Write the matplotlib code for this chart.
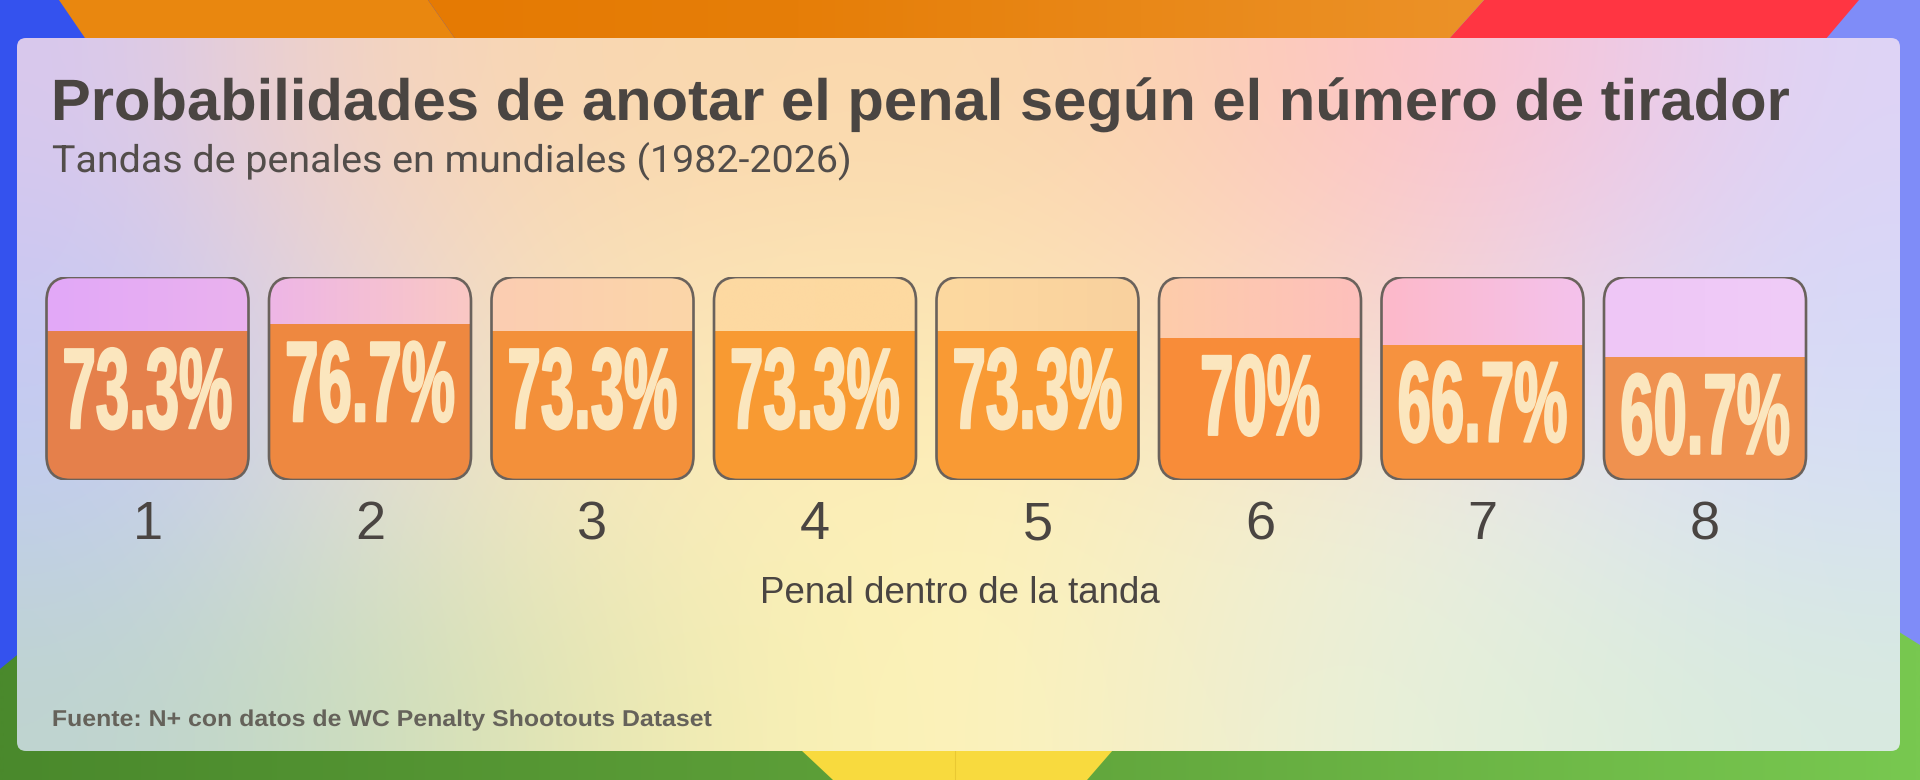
import numpy as np
import matplotlib
matplotlib.use("Agg")
import matplotlib.pyplot as plt
import matplotlib.patheffects as pe
from matplotlib.patches import Polygon, FancyBboxPatch
from matplotlib.transforms import Affine2D
from matplotlib.colors import to_rgb

# data
shooter = [1, 2, 3, 4, 5, 6, 7, 8]
pct_scored = [73.3, 76.7, 73.3, 73.3, 73.3, 70.0, 66.7, 60.7]

title = "Probabilidades de anotar el penal según el número de tirador"
subtitle = "Tandas de penales en mundiales (1982-2026)"
xlabel = "Penal dentro de la tanda"
source = "Fuente: N+ con datos de WC Penalty Shootouts Dataset"

# colours
fill_colors = ["#E5804B", "#EE8840", "#F3903A", "#F89A32", "#F99A34", "#F88C39", "#F6923F", "#EF914F"]
empty_colors = [("#E2A8F8", "#EAB2EE"), ("#EEB6E6", "#FAC8C4"), ("#FBCDB2", "#FCD6A8"),
                ("#FDD9A2", "#FDD9A0"), ("#FDD9A0", "#F9D19E"), ("#FDCCAA", "#FDC0BC"),
                ("#FDB9CA", "#F4C2EC"), ("#EEC6F6", "#F0CCF8")]
panel_rows = [
    ["#D8C8EE", "#F3D3C4", "#F9D7B2", "#FAD8AE", "#FAD9AE", "#FBD2B2", "#FEC4C4", "#F4C6E0", "#DED4F6"],
    ["#C8C8F4", "#E6D2DC", "#F8DEBA", "#FCE5B5", "#FCE6B4", "#FCDDBA", "#FAD2CC", "#E8D4EE", "#D6D8F8"],
    ["#C0CDF0", "#D8DCD8", "#F2E8C0", "#FCEEB8", "#FDF0B8", "#F8EEC4", "#F0EED8", "#E2E8EC", "#D6E0F4"],
    ["#BFD4D0", "#C8DCC0", "#E0E4B4", "#F6EEB4", "#FEF4B8", "#F4EEC8", "#E8F0DA", "#DFEEDA", "#D8EAE0"],
]
frame = [
    ("#3452EE", [(0, 0), (960, 0), (960, 780), (0, 780)]),
    ("#7F8CF8", [(960, 0), (1920, 0), (1920, 780), (960, 780)]),
    ("#E9870F", [(59, 0), (428, 0), (470, 60), (100, 60)]),
    ("#FF3542", [(1484, 0), (1859, 0), (1808, 60), (1430, 60)]),
]
orange_pts = [(428, 0), (1484, 0), (1430, 60), (470, 60)]
orange_stops = [(428, "#E57A03"), (800, "#E67E08"), (1484, "#EC9228")]
green_pts = [(0, 669), (60, 620), (1880, 620), (1920, 645), (1920, 780), (0, 780)]
green_stops = [(0, "#4A892C"), (960, "#5FA23A"), (1920, "#78C850")]
yellow_pts = [(769, 720), (1139, 720), (1087, 780), (833, 780)]

text_dark = "#4A4542"


class Squeeze(pe.AbstractPathEffect):
    """Reshape text: narrow it (sx / target width) or make it taller (sy)."""

    def __init__(self, sx=None, width=None, sy=1.0, anchor="left", stroke=0.0):
        super().__init__()
        self.sx = sx
        self.width = width
        self.sy = sy
        self.anchor = anchor
        self.stroke = stroke

    def draw_path(self, renderer, gc, tpath, affine, rgbFace=None):
        bb = tpath.get_extents(affine)
        if self.width is not None:
            sx = self.width / bb.width
        else:
            sx = 1.0 if self.sx is None else self.sx
        x0 = bb.x0 if self.anchor == "left" else (bb.x0 + bb.x1) / 2
        yb = affine.transform((0, 0))[1]
        squeeze = Affine2D().translate(-x0, -yb).scale(sx, self.sy).translate(x0, yb)
        gc0 = renderer.new_gc()
        gc0.copy_properties(gc)
        if self.stroke:
            gc0.set_linewidth(self.stroke)
            gc0.set_foreground(rgbFace)
        renderer.draw_path(gc0, tpath, affine + squeeze, rgbFace)
        gc0.restore()


def gradient_fill(axis, pts, stops, zorder):
    poly = Polygon(pts, closed=True, facecolor='none', edgecolor='none')
    axis.add_patch(poly)
    xs = np.linspace(0, W, 240)
    sx = [s[0] for s in stops]
    cols = np.array([np.interp(xs, sx, [to_rgb(s[1])[k] for s in stops]) for k in range(3)]).T
    im = axis.imshow(cols[None], extent=(0, W, H, 0), interpolation='bilinear', zorder=zorder)
    im.set_clip_path(poly)


plt.rcParams['font.family'] = ['Liberation Sans', 'DejaVu Sans']

W, H = 1920, 780
fig = plt.figure(figsize=(W / 100, H / 100), dpi=100)

# background + frosted panel
bg = fig.add_axes([0, 0, 1, 1])
bg.axis('off')
for col, pts in frame:
    bg.add_patch(Polygon(pts, closed=True, facecolor=col, edgecolor='none', zorder=0.1))
gradient_fill(bg, orange_pts, orange_stops, 0.2)
gradient_fill(bg, green_pts, green_stops, 0.2)
bg.add_patch(Polygon(yellow_pts, closed=True, facecolor="#F8DA3E", edgecolor='none', zorder=0.3))
bg.plot([955, 955], [751, 780], color="#E9C832", lw=0.8, zorder=0.35)

panel = FancyBboxPatch((17, 38), 1883, 713, boxstyle="round,pad=0,rounding_size=9",
                       facecolor='none', edgecolor='none')
bg.add_patch(panel)
grid = np.array([[to_rgb(c) for c in row] for row in panel_rows])
img = bg.imshow(grid, extent=(17, 1900, 751, 38), interpolation='bicubic', zorder=1)
img.set_clip_path(panel)
bg.set_aspect('auto')
bg.set_xlim(0, W)
bg.set_ylim(H, 0)

bg.text(51, 120, title, fontsize=42, fontweight='bold', color=text_dark, va='baseline',
        path_effects=[Squeeze(width=1734)])
bg.text(52, 172, subtitle, fontsize=27, color="#524D4A", va='baseline',
        family=['Roboto', 'Liberation Sans'],
        path_effects=[Squeeze(width=796)])
bg.text(52, 726, source, fontsize=16.5, fontweight='bold', color="#65625A", va='baseline',
        path_effects=[Squeeze(width=658)])

# boxes
pitch = 222.5          # px between box centres
first_c = 147.5        # px centre of first box
box_top, box_bot = 277, 480
box_w_px = 202
ax = fig.add_axes([0, (H - box_bot) / H, 1, (box_bot - box_top) / H])
ax.set_facecolor('none')
for s in ax.spines.values():
    s.set_visible(False)

px_y = (box_bot - box_top) / 100
w = box_w_px / pitch
r = 24 / pitch
aspect = pitch / px_y

boxes = []
for x, (cl, cr) in zip(shooter, empty_colors):
    box = FancyBboxPatch((x - w / 2, 0), w, 100, boxstyle=f"round,pad=0,rounding_size={r}",
                         mutation_aspect=aspect, facecolor='none', edgecolor="#6A625C",
                         linewidth=1.9, zorder=5)
    ax.add_patch(box)
    boxes.append(box)
    grad = np.linspace(to_rgb(cl), to_rgb(cr), 40)[None, :, :]
    im = ax.imshow(grad, extent=(x - w / 2, x + w / 2, 0, 100), interpolation='bilinear', zorder=1)
    im.set_clip_path(box)

bars = ax.bar(shooter, pct_scored, width=w, color=fill_colors, linewidth=0, zorder=2)
for b, box in zip(bars, boxes):
    b.set_clip_path(box)

for x, v in zip(shooter, pct_scored):
    ax.text(x, v - 97 / px_y, f"{v:g}%", ha='center', va='baseline', fontsize=44,
            fontweight='bold', color="#FBE6BE", zorder=6,
            path_effects=[Squeeze(sx=0.98, sy=1.88, anchor='center', stroke=1.5)])

ax.set_aspect('auto')
ax.set_xlim(1 - first_c / pitch, 1 + (W - first_c) / pitch)
ax.set_ylim(0, 100)
ax.set_xticks(shooter, labels=[str(s) for s in shooter])
ax.set_yticks([])
ax.tick_params(axis='x', length=0, pad=14.4, labelsize=39, labelcolor=text_dark)
ax.set_xlabel(xlabel, fontsize=26.5, color=text_dark, labelpad=19)

fig.savefig("out.png", dpi=100)
